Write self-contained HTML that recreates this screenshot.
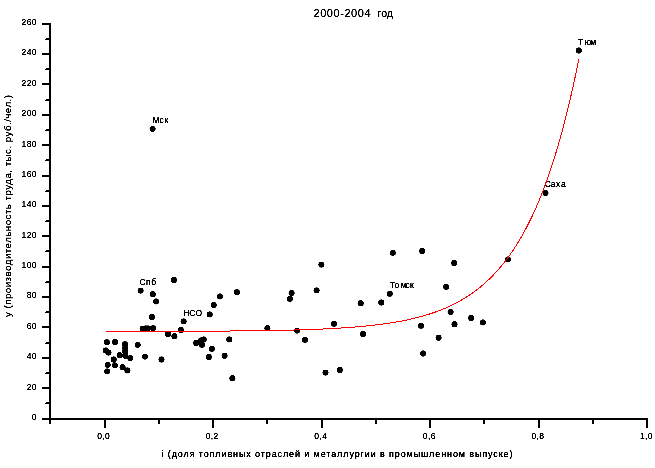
<!DOCTYPE html>
<html><head><meta charset="utf-8"><title>2000-2004 год</title>
<style>
html,body{margin:0;padding:0;background:#fff;}
body{width:655px;height:468px;overflow:hidden;font-family:"Liberation Sans",sans-serif;}
svg{display:block}
text{font-family:"Liberation Sans",sans-serif;fill:#000}
.tk{font-size:8.5px;letter-spacing:0.35px}
.lb{font-size:8.5px}
</style></head><body>
<svg width="655" height="468" viewBox="0 0 655 468">
<rect width="655" height="468" fill="#fff"/>
<defs>
<filter id="th" x="0" y="0" width="655" height="468" filterUnits="userSpaceOnUse" color-interpolation-filters="sRGB"><feComponentTransfer><feFuncA type="linear" slope="3" intercept="-0.6"/></feComponentTransfer></filter>
<filter id="tx" x="0" y="0" width="655" height="468" filterUnits="userSpaceOnUse" color-interpolation-filters="sRGB"><feComponentTransfer><feFuncA type="linear" slope="2.2" intercept="-0.3"/></feComponentTransfer></filter>
<filter id="tm" x="0" y="0" width="655" height="468" filterUnits="userSpaceOnUse" color-interpolation-filters="sRGB"><feComponentTransfer><feFuncA type="linear" slope="2.6" intercept="-0.32"/></feComponentTransfer></filter>
<filter id="tb" x="0" y="0" width="655" height="468" filterUnits="userSpaceOnUse" color-interpolation-filters="sRGB"><feComponentTransfer><feFuncA type="linear" slope="3" intercept="-0.35"/></feComponentTransfer></filter>
</defs>

<g fill="#000" shape-rendering="crispEdges">
<rect x="49" y="23" width="2" height="397"/>
<rect x="42" y="418" width="606" height="2"/>
<rect x="42" y="418" width="8" height="2"/>
<rect x="46" y="402" width="4" height="2"/><rect x="45" y="403" width="1" height="1"/>
<rect x="42" y="387" width="8" height="2"/>
<rect x="46" y="372" width="4" height="2"/><rect x="45" y="373" width="1" height="1"/>
<rect x="42" y="357" width="8" height="2"/>
<rect x="46" y="342" width="4" height="2"/><rect x="45" y="343" width="1" height="1"/>
<rect x="42" y="326" width="8" height="2"/>
<rect x="46" y="311" width="4" height="2"/><rect x="45" y="312" width="1" height="1"/>
<rect x="42" y="296" width="8" height="2"/>
<rect x="46" y="281" width="4" height="2"/><rect x="45" y="282" width="1" height="1"/>
<rect x="42" y="266" width="8" height="2"/>
<rect x="46" y="250" width="4" height="2"/><rect x="45" y="251" width="1" height="1"/>
<rect x="42" y="235" width="8" height="2"/>
<rect x="46" y="220" width="4" height="2"/><rect x="45" y="221" width="1" height="1"/>
<rect x="42" y="205" width="8" height="2"/>
<rect x="46" y="190" width="4" height="2"/><rect x="45" y="191" width="1" height="1"/>
<rect x="42" y="175" width="8" height="2"/>
<rect x="46" y="159" width="4" height="2"/><rect x="45" y="160" width="1" height="1"/>
<rect x="42" y="144" width="8" height="2"/>
<rect x="46" y="129" width="4" height="2"/><rect x="45" y="130" width="1" height="1"/>
<rect x="42" y="114" width="8" height="2"/>
<rect x="46" y="99" width="4" height="2"/><rect x="45" y="100" width="1" height="1"/>
<rect x="42" y="83" width="8" height="2"/>
<rect x="46" y="68" width="4" height="2"/><rect x="45" y="69" width="1" height="1"/>
<rect x="42" y="53" width="8" height="2"/>
<rect x="46" y="38" width="4" height="2"/><rect x="45" y="39" width="1" height="1"/>
<rect x="42" y="23" width="8" height="2"/>
<rect x="49" y="419" width="2" height="5"/>
<rect x="104" y="419" width="2" height="9"/>
<rect x="158" y="419" width="2" height="5"/>
<rect x="212" y="419" width="2" height="9"/>
<rect x="266" y="419" width="2" height="5"/>
<rect x="321" y="419" width="2" height="9"/>
<rect x="375" y="419" width="2" height="5"/>
<rect x="429" y="419" width="2" height="9"/>
<rect x="483" y="419" width="2" height="5"/>
<rect x="538" y="419" width="2" height="9"/>
<rect x="592" y="419" width="2" height="5"/>
<rect x="646" y="419" width="2" height="9"/>
</g>
<g filter="url(#tm)">
<g class="tk" text-anchor="end">
<text x="36.8" y="420">0</text>
<text x="36.8" y="390">20</text>
<text x="36.8" y="359">40</text>
<text x="36.8" y="329">60</text>
<text x="36.8" y="298">80</text>
<text x="36.8" y="268">100</text>
<text x="36.8" y="238">120</text>
<text x="36.8" y="207">140</text>
<text x="36.8" y="177">160</text>
<text x="36.8" y="147">180</text>
<text x="36.8" y="116">200</text>
<text x="36.8" y="86">220</text>
<text x="36.8" y="55">240</text>
<text x="36.8" y="25">260</text>
</g>
<g class="tk" text-anchor="middle">
<text x="103.7" y="439">0,0</text>
<text x="212.2" y="439">0,2</text>
<text x="320.8" y="439">0,4</text>
<text x="429.3" y="439">0,6</text>
<text x="537.9" y="439">0,8</text>
<text x="646.4" y="439">1,0</text>
</g>
</g><g filter="url(#tx)">
<text x="313.5" y="16.7" font-size="11px" textLength="57" lengthAdjust="spacing">2000-2004</text>
<text x="377.5" y="16.7" font-size="11px" textLength="15.5" lengthAdjust="spacingAndGlyphs">год</text>
</g><g filter="url(#tb)">
<text x="161.5" y="457" font-size="9px" textLength="351" lengthAdjust="spacing">i (доля топливных отраслей и металлургии в промышленном выпуске)</text>
</g><g filter="url(#tx)">
<text transform="translate(10.8,317) rotate(-90)" font-size="9.8px" textLength="222" lengthAdjust="spacing">y (производительность труда, тыс. руб./чел.)</text>
</g><g filter="url(#tb)">
<g class="lb">
<text x="152.6 159.6 164.4" y="123">Мск</text>
<text x="139.6 146.0 151.2" y="285">Спб</text>
<text x="183.4 189.3 195.6" y="316">НСО</text>
<text x="390 394.4 400.7 405.5 410" y="288">Томск</text>
<text x="544.8 550.7 556 560.9" y="187">Саха</text>
<text x="578 584.7 590.2" y="45">Тюм</text>
</g>
</g>
<g fill="#000" filter="url(#th)">
<circle cx="106.9" cy="342.2" r="2.9"/>
<circle cx="115.1" cy="341.9" r="2.9"/>
<circle cx="105.8" cy="350.4" r="2.9"/>
<circle cx="108.5" cy="352.6" r="2.9"/>
<circle cx="125.0" cy="344.1" r="2.9"/>
<circle cx="125.2" cy="348.0" r="2.9"/>
<circle cx="125.2" cy="351.5" r="2.9"/>
<circle cx="125.3" cy="355.8" r="2.9"/>
<circle cx="119.7" cy="355.2" r="2.9"/>
<circle cx="130.3" cy="358.1" r="2.9"/>
<circle cx="137.7" cy="344.8" r="2.9"/>
<circle cx="145.0" cy="356.6" r="2.9"/>
<circle cx="113.7" cy="359.5" r="2.9"/>
<circle cx="114.9" cy="365.3" r="2.9"/>
<circle cx="107.7" cy="364.8" r="2.9"/>
<circle cx="107.2" cy="371.3" r="2.9"/>
<circle cx="122.6" cy="367.2" r="2.9"/>
<circle cx="127.4" cy="370.4" r="2.9"/>
<circle cx="161.5" cy="359.5" r="2.9"/>
<circle cx="168.0" cy="334.0" r="2.9"/>
<circle cx="174.4" cy="336.2" r="2.9"/>
<circle cx="180.8" cy="330.0" r="2.9"/>
<circle cx="183.6" cy="321.3" r="2.9"/>
<circle cx="142.6" cy="328.7" r="2.9"/>
<circle cx="145.5" cy="328.5" r="2.9"/>
<circle cx="148.0" cy="328.3" r="2.9"/>
<circle cx="153.1" cy="328.1" r="2.9"/>
<circle cx="173.9" cy="280.0" r="2.9"/>
<circle cx="140.6" cy="290.6" r="2.9"/>
<circle cx="152.8" cy="294.2" r="2.9"/>
<circle cx="156.1" cy="301.4" r="2.9"/>
<circle cx="151.9" cy="316.9" r="2.9"/>
<circle cx="209.7" cy="314.4" r="2.9"/>
<circle cx="213.7" cy="305.0" r="2.9"/>
<circle cx="219.9" cy="296.4" r="2.9"/>
<circle cx="236.9" cy="292.2" r="2.9"/>
<circle cx="196.2" cy="342.9" r="2.9"/>
<circle cx="201.0" cy="340.5" r="2.9"/>
<circle cx="203.7" cy="339.4" r="2.9"/>
<circle cx="202.0" cy="344.8" r="2.9"/>
<circle cx="229.3" cy="339.4" r="2.9"/>
<circle cx="211.9" cy="348.8" r="2.9"/>
<circle cx="208.8" cy="357.0" r="2.9"/>
<circle cx="224.6" cy="355.7" r="2.9"/>
<circle cx="232.4" cy="378.2" r="2.9"/>
<circle cx="152.6" cy="128.8" r="2.9"/>
<circle cx="392.8" cy="252.9" r="2.9"/>
<circle cx="321.4" cy="264.6" r="2.9"/>
<circle cx="316.6" cy="290.3" r="2.9"/>
<circle cx="291.6" cy="293.0" r="2.9"/>
<circle cx="289.9" cy="298.8" r="2.9"/>
<circle cx="389.8" cy="293.7" r="2.9"/>
<circle cx="381.3" cy="302.5" r="2.9"/>
<circle cx="360.7" cy="303.2" r="2.9"/>
<circle cx="334.0" cy="323.8" r="2.9"/>
<circle cx="267.4" cy="328.2" r="2.9"/>
<circle cx="297.1" cy="330.6" r="2.9"/>
<circle cx="305.0" cy="339.8" r="2.9"/>
<circle cx="363.1" cy="334.0" r="2.9"/>
<circle cx="339.8" cy="369.9" r="2.9"/>
<circle cx="325.5" cy="372.6" r="2.9"/>
<circle cx="422.2" cy="250.9" r="2.9"/>
<circle cx="454.2" cy="262.9" r="2.9"/>
<circle cx="508.0" cy="259.3" r="2.9"/>
<circle cx="446.1" cy="286.8" r="2.9"/>
<circle cx="450.6" cy="312.0" r="2.9"/>
<circle cx="471.2" cy="317.9" r="2.9"/>
<circle cx="482.9" cy="322.4" r="2.9"/>
<circle cx="454.5" cy="324.2" r="2.9"/>
<circle cx="421.0" cy="325.7" r="2.9"/>
<circle cx="438.6" cy="337.7" r="2.9"/>
<circle cx="423.1" cy="353.5" r="2.9"/>
<circle cx="545.5" cy="192.9" r="2.9"/>
<circle cx="578.8" cy="50.5" r="2.9"/>
</g>
<path d="M106.00,331.40 L112.00,331.40 L118.00,331.39 L124.00,331.39 L130.00,331.38 L136.00,331.37 L142.00,331.36 L148.00,331.35 L154.00,331.34 L160.00,331.33 L166.00,331.31 L172.00,331.30 L178.00,331.28 L184.00,331.26 L190.00,331.24 L196.00,331.21 L202.00,331.19 L208.00,331.15 L214.00,331.12 L220.00,331.08 L226.00,331.04 L232.00,330.99 L238.00,330.94 L244.00,330.88 L250.00,330.81 L256.00,330.74 L262.00,330.65 L268.00,330.56 L274.00,330.45 L280.00,330.34 L286.00,330.21 L292.00,330.06 L298.00,329.90 L304.00,329.72 L310.00,329.52 L316.00,329.29 L322.00,329.04 L328.00,328.76 L334.00,328.45 L340.00,328.10 L346.00,327.70 L352.00,327.27 L358.00,326.78 L364.00,326.23 L370.00,325.62 L376.00,324.94 L382.00,324.18 L388.00,323.33 L394.00,322.39 L400.00,321.33 L402.00,320.95 L404.00,320.55 L406.00,320.15 L408.00,319.72 L410.00,319.28 L412.00,318.82 L414.00,318.35 L416.00,317.86 L418.00,317.35 L420.00,316.82 L422.00,316.27 L424.00,315.70 L426.00,315.11 L428.00,314.50 L430.00,313.86 L432.00,313.20 L434.00,312.52 L436.00,311.81 L438.00,311.07 L440.00,310.31 L442.00,309.52 L444.00,308.69 L446.00,307.84 L448.00,306.96 L450.00,306.04 L452.00,305.08 L454.00,304.09 L456.00,303.07 L458.00,302.00 L460.00,300.90 L462.00,299.75 L464.00,298.56 L466.00,297.33 L468.00,296.05 L470.00,294.72 L472.00,293.35 L474.00,291.92 L476.00,290.43 L478.00,288.90 L480.00,287.30 L482.00,285.64 L484.00,283.93 L486.00,282.14 L488.00,280.29 L490.00,278.37 L492.00,276.38 L494.00,274.32 L496.00,272.18 L498.00,269.95 L500.00,267.65 L500.50,267.06 L501.00,266.46 L501.50,265.86 L502.00,265.25 L502.50,264.64 L503.00,264.02 L503.50,263.40 L504.00,262.77 L504.50,262.14 L505.00,261.49 L505.50,260.85 L506.00,260.19 L506.50,259.54 L507.00,258.87 L507.50,258.20 L508.00,257.52 L508.50,256.84 L509.00,256.15 L509.50,255.45 L510.00,254.75 L510.50,254.04 L511.00,253.32 L511.50,252.60 L512.00,251.87 L512.50,251.14 L513.00,250.39 L513.50,249.64 L514.00,248.89 L514.50,248.12 L515.00,247.35 L515.50,246.58 L516.00,245.79 L516.50,245.00 L517.00,244.20 L517.50,243.39 L518.00,242.58 L518.50,241.76 L519.00,240.93 L519.50,240.09 L520.00,239.24 L520.50,238.39 L521.00,237.53 L521.50,236.66 L522.00,235.79 L522.50,234.90 L523.00,234.01 L523.50,233.11 L524.00,232.20 L524.50,231.28 L525.00,230.35 L525.50,229.42 L526.00,228.48 L526.50,227.52 L527.00,226.56 L527.50,225.59 L528.00,224.61 L528.50,223.63 L529.00,222.63 L529.50,221.62 L530.00,220.61 L530.50,219.58 L531.00,218.55 L531.50,217.50 L532.00,216.45 L532.50,215.38 L533.00,214.31 L533.50,213.23 L534.00,212.14 L534.50,211.03 L535.00,209.92 L535.50,208.79 L536.00,207.66 L536.50,206.52 L537.00,205.36 L537.50,204.19 L538.00,203.02 L538.50,201.83 L539.00,200.63 L539.50,199.42 L540.00,198.20 L540.50,196.97 L541.00,195.72 L541.50,194.47 L542.00,193.20 L542.50,191.92 L543.00,190.63 L543.50,189.33 L544.00,188.02 L544.50,186.69 L545.00,185.35 L545.50,184.00 L546.00,182.64 L546.50,181.26 L547.00,179.87 L547.50,178.47 L548.00,177.06 L548.50,175.63 L549.00,174.19 L549.50,172.73 L550.00,171.26 L550.50,169.78 L551.00,168.29 L551.50,166.78 L552.00,165.26 L552.50,163.72 L553.00,162.17 L553.50,160.60 L554.00,159.02 L554.50,157.43 L555.00,155.82 L555.50,154.19 L556.00,152.56 L556.50,150.90 L557.00,149.23 L557.50,147.55 L558.00,145.85 L558.50,144.13 L559.00,142.40 L559.50,140.65 L560.00,138.88 L560.50,137.10 L561.00,135.31 L561.50,133.49 L562.00,131.66 L562.50,129.81 L563.00,127.95 L563.50,126.07 L564.00,124.17 L564.50,122.25 L565.00,120.32 L565.50,118.36 L566.00,116.39 L566.50,114.40 L567.00,112.40 L567.50,110.37 L568.00,108.33 L568.50,106.26 L569.00,104.18 L569.50,102.08 L570.00,99.96 L570.50,97.82 L571.00,95.66 L571.50,93.48 L572.00,91.28 L572.50,89.05 L573.00,86.81 L573.50,84.55 L574.00,82.27 L574.50,79.96 L575.00,77.64 L575.50,75.29 L576.00,72.92 L576.50,70.53 L577.00,68.12 L577.50,65.68 L578.00,63.22 L578.50,60.74 L578.85,58.99" fill="none" stroke="#f00" stroke-width="1" shape-rendering="crispEdges"/>
</svg></body></html>
